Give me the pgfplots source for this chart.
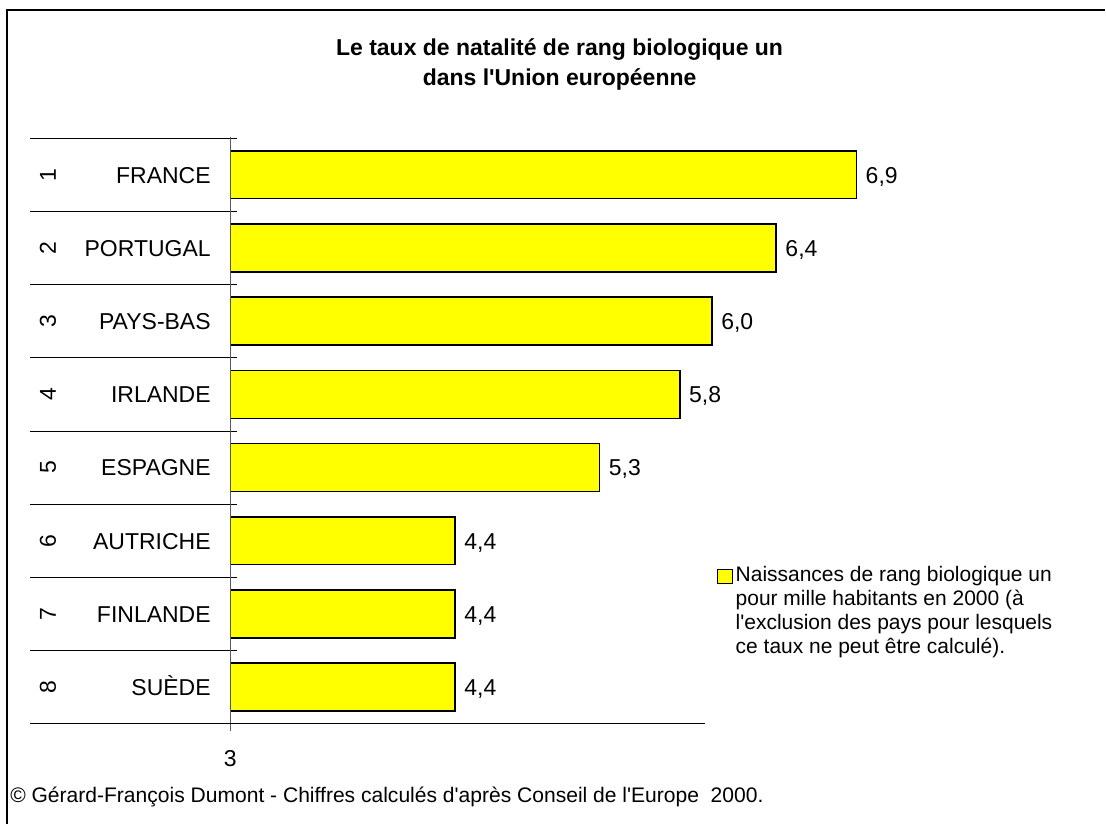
\documentclass[border=0pt]{standalone}
\usepackage{fontspec}
\setmainfont{Liberation Sans}
\usepackage{pgfplots}
\pgfplotsset{compat=1.18}
\definecolor{barY}{HTML}{FFFF00}

\newcommand\lab{\fontsize{17.25pt}{20pt}\selectfont}
\newcommand\leg{\fontsize{15.75pt}{18pt}\selectfont}
\newcommand\q{\textquotesingle}

\begin{document}
\begin{tikzpicture}
\begin{scope}[x=0.75pt,y=-0.75pt]
  \useasboundingbox (0,0) rectangle (1106,825);
\end{scope}

\begin{axis}[
  at={(172.9pt,-543.2pt)}, anchor=south west,
  scale only axis, width=554.2pt, height=439.5pt,
  xmin=3, xmax=7.6, ymin=0.5, ymax=8.5, y dir=reverse,
  axis line style={draw=none}, tick style={draw=none}, major tick length=0pt,
  xtick=\empty,
  ytick={1,...,8},
  yticklabels={FRANCE,PORTUGAL,PAYS-BAS,IRLANDE,ESPAGNE,AUTRICHE,FINLANDE,SUÈDE},
  yticklabel style={font=\lab, anchor=base east, inner sep=0pt, xshift=-14.6pt, yshift=-6.2pt},
  /pgf/number format/assume math mode=true,
  point meta=x,
  nodes near coords={\pgfmathprintnumber[fixed,fixed zerofill,precision=1,use comma]{\pgfplotspointmeta}},
  nodes near coords style={font=\lab, anchor=base west, inner sep=0pt, xshift=6.5pt, yshift=-6.2pt, text=black},
]
  % rate per 1000 inhabitants, bars start at 3 (clipped at xmin)
  \addplot[xbar, bar width=0.655, bar shift=0pt, fill=barY, draw=black, line width=1.1pt]
    coordinates {(6.9,1) (6.4,2) (6.0,3) (5.8,4) (5.3,5) (4.4,6) (4.4,7) (4.4,8)};
\end{axis}

\begin{scope}[x=0.75pt,y=-0.75pt]
  % outer frame (only top and left visible)
  \draw[line width=1.3pt] (7,825) -- (7,10) -- (1106,10);
  % title
  \node[font=\bfseries\fontsize{17.25pt}{20pt}\selectfont, anchor=base] at (560,56) {Le taux de natalité de rang biologique un};
  \node[font=\bfseries\fontsize{17.25pt}{20pt}\selectfont, anchor=base] at (560,86) {dans l\q Union européenne};
  % category separators
  \foreach \k in {0,...,8}
    \draw[line width=0.7pt] (30,{138.3+\k*73.25}) -- (237,{138.3+\k*73.25});
  % rank numbers
  \foreach \k in {1,...,8}
    \node[font=\lab, rotate=90, inner sep=0pt] at (48,{138.3+(\k-0.5)*73.25}) {\k};
  % value axis
  \draw[gray!70!black, line width=1pt] (230.5,137.5) -- (230.5,732);
  \draw[line width=0.7pt] (230.5,724.3) -- (706,724.3);
  \node[font=\lab, anchor=base, inner sep=0pt] at (230.5,767) {3};
  % legend
  \draw[fill=barY, line width=1.1pt] (718,570) rectangle (733,584);
  \node[font=\leg, anchor=base west, inner sep=0pt] at (736,582) {Naissances de rang biologique un};
  \node[font=\leg, anchor=base west, inner sep=0pt] at (736,606) {pour mille habitants en 2000 (à};
  \node[font=\leg, anchor=base west, inner sep=0pt] at (736,630) {l\q exclusion des pays pour lesquels};
  \node[font=\leg, anchor=base west, inner sep=0pt] at (736,654) {ce taux ne peut être calculé).};
  % source
  \node[font=\fontsize{15.8pt}{18pt}\selectfont, anchor=base west, inner sep=0pt] at (10,803)
    {© Gérard-François Dumont - Chiffres calculés d\q après Conseil de l\q Europe\ \ 2000.};
\end{scope}
\end{tikzpicture}
\end{document}
